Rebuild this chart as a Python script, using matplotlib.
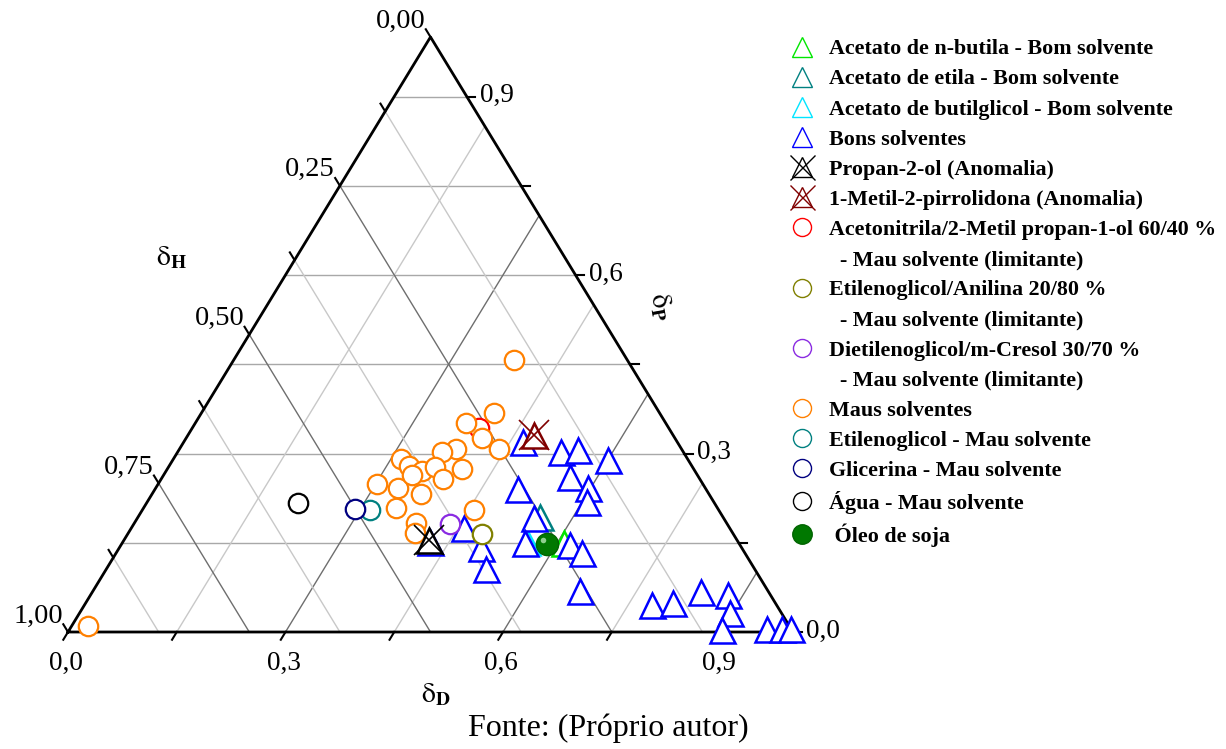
import matplotlib
matplotlib.use('Agg')
import matplotlib.pyplot as plt
from matplotlib.lines import Line2D
from matplotlib.transforms import offset_copy
import numpy as np

plt.rcParams['font.family'] = ['Liberation Serif', 'DejaVu Serif']
plt.rcParams['mathtext.fontset'] = 'stix'

bons_fd = [0.424, 0.459, 0.499, 0.524, 0.501, 0.468, 0.547, 0.555, 0.528, 0.550, 0.600, 0.562, 0.596,
           0.607, 0.619, 0.643, 0.672, 0.783, 0.810, 0.839, 0.879, 0.897, 0.900, 0.962, 0.982, 0.995]
bons_fp = [0.151, 0.175, 0.141, 0.106, 0.240, 0.319, 0.192, 0.150, 0.303, 0.306, 0.289, 0.261, 0.242,
           0.218, 0.146, 0.133, 0.069, 0.045, 0.049, 0.067, 0.062, 0.032, 0.003, 0.005, 0.005, 0.005]
bons_fh = [0.425, 0.366, 0.360, 0.370, 0.259, 0.213, 0.261, 0.295, 0.169, 0.144, 0.111, 0.177, 0.162,
           0.175, 0.235, 0.224, 0.259, 0.172, 0.141, 0.094, 0.059, 0.071, 0.097, 0.033, 0.013, 0.000]

maus_fd = [0.387, 0.404, 0.373, 0.408, 0.440, 0.381, 0.365, 0.314, 0.331, 0.353, 0.368, 0.406,
           0.389, 0.302, 0.334, 0.371, 0.348, 0.458, 0.389, 0.396, 0.023, 0.342]
maus_fp = [0.457, 0.368, 0.351, 0.326, 0.308, 0.308, 0.303, 0.291, 0.279, 0.271, 0.277, 0.274,
           0.257, 0.249, 0.242, 0.232, 0.208, 0.205, 0.183, 0.166, 0.010, 0.264]
maus_fh = [0.156, 0.228, 0.276, 0.266, 0.252, 0.311, 0.332, 0.395, 0.390, 0.376, 0.355, 0.320,
           0.354, 0.449, 0.424, 0.397, 0.444, 0.337, 0.428, 0.438, 0.967, 0.394]

nbutila = [0.609, 0.150, 0.241]
etila = [0.554, 0.193, 0.253]
butilglicol = [0.558, 0.151, 0.291]
propanol = [0.420, 0.155, 0.425]
nmp = [0.477, 0.331, 0.192]
acetonitrila = [0.395, 0.343, 0.262]
etg_anilina = [0.489, 0.165, 0.346]
deg_cresol = [0.436, 0.182, 0.382]
etilenoglicol = [0.314, 0.205, 0.481]
glicerina = [0.293, 0.207, 0.500]
agua = [0.209, 0.217, 0.574]
oleo_soja = [0.587, 0.148, 0.265]

d_ticks = [0.0, 0.15, 0.3, 0.45, 0.6, 0.75, 0.9]
d_labels = {0.0: '0,0', 0.3: '0,3', 0.6: '0,6', 0.9: '0,9'}
p_ticks = [0.0, 0.15, 0.3, 0.45, 0.6, 0.75, 0.9]
p_labels = {0.0: '0,0', 0.3: '0,3', 0.6: '0,6', 0.9: '0,9'}
h_ticks = [0.0, 0.125, 0.25, 0.375, 0.5, 0.625, 0.75, 0.875, 1.0]
h_labels = {0.0: '0,00', 0.25: '0,25', 0.5: '0,50', 0.75: '0,75', 1.0: '1,00'}


def tern(fd, fp, fh):
    fd, fp, fh = (np.atleast_1d(np.asarray(v, dtype=float)) for v in (fd, fp, fh))
    s = fd + fp + fh
    fd, fp = fd / s, fp / s
    return fd + fp / 2, fp


fig = plt.figure(figsize=(12.26, 7.49), dpi=100)
ax = fig.add_axes([68 / 1226, 117 / 749, 725 / 1226, 595 / 749])
ax.set_xlim(0, 1)
ax.set_ylim(0, 1)
ax.axis('off')

# grade
for p in p_ticks[1:]:
    ax.plot([p / 2, 1 - p / 2], [p, p], color='#a8a8a8', lw=1, zorder=1)
for d in d_ticks[1:]:
    dark = abs(d / 0.3 - round(d / 0.3)) < 1e-6
    ax.plot([d, d + (1 - d) / 2], [0, 1 - d], color='#6e6e6e' if dark else '#c8c8c8', lw=1, zorder=1)
for h in h_ticks[1:-1]:
    dark = abs(h / 0.25 - round(h / 0.25)) < 1e-6
    ax.plot([1 - h, (1 - h) / 2], [0, 1 - h], color='#6e6e6e' if dark else '#c8c8c8', lw=1, zorder=1)

# bordas
ax.plot([0, 1, 0.5, 0], [0, 0, 1, 0], color='black', lw=2, zorder=2, clip_on=False)

t = 0.013
for d in d_ticks:
    ax.plot([d, d - t / 2], [0, -t], color='black', lw=1.5, clip_on=False)
    if d in d_labels:
        ax.annotate(d_labels[d], (d, 0), xytext=(-2, -31), textcoords='offset pixels',
                    ha='center', va='center', fontsize=19.5, annotation_clip=False)
for p in p_ticks:
    x = (1 - p) + p / 2
    ax.plot([x, x + 0.012], [p, p], color='black', lw=1.5, clip_on=False)
    if p in p_labels:
        ax.annotate(p_labels[p], (x, p), xytext=(13, 1), textcoords='offset pixels',
                    ha='left', va='center', fontsize=19.5, annotation_clip=False)
for h in h_ticks:
    x, y = (1 - h) / 2, 1 - h
    ax.plot([x, x - t / 2], [y, y + t], color='black', lw=1.5, clip_on=False)
    if h in h_labels:
        ax.annotate(h_labels[h], (x, y), xytext=(-5, 16), textcoords='offset pixels',
                    ha='right', va='center', fontsize=20.5, annotation_clip=False)

tri = dict(ls='none', marker='^', ms=18, mfc='white', mew=1.8, clip_on=False)
circ = dict(ls='none', marker='o', ms=14, mfc='white', mew=1.6, clip_on=False)

ax.plot(*tern(*nbutila), mec='#00e600', zorder=3, **tri)
ax.plot(*tern(*etila), mec='#008080', zorder=3, **tri)
ax.plot(*tern(*butilglicol), mec='#00e5ff', zorder=3, **tri)
ax.plot(*tern(bons_fd, bons_fp, bons_fh), mec='#0000ff', zorder=4, **tri)
ax.plot(*tern(*acetonitrila), mec='#ff0000', zorder=4, **circ)
ax.plot(*tern(maus_fd, maus_fp, maus_fh), mec='#ff8000', zorder=5, **circ)
ax.plot(*tern(*etg_anilina), mec='#808000', zorder=5, **circ)
ax.plot(*tern(*deg_cresol), mec='#8a2be2', zorder=5, **circ)
ax.plot(*tern(*etilenoglicol), mec='#008080', zorder=5, **circ)
ax.plot(*tern(*glicerina), mec='#000080', zorder=6, **circ)
ax.plot(*tern(*agua), mec='black', zorder=6, **circ)
for comp, c in ((propanol, 'black'), (nmp, '#800000')):
    ax.plot(*tern(*comp), mec=c, zorder=7, **tri)
    ax.plot(*tern(*comp), ls='none', marker='x', ms=22, mec=c, mew=1.2, zorder=7)
ax.plot(*tern(*oleo_soja), ls='none', marker='o', ms=16, mfc='#007800', mec='#006400', zorder=8)
ax.plot(*tern(*oleo_soja), ls='none', marker='o', ms=4, mfc='#8fcf8f', mec='none', zorder=9,
        transform=offset_copy(ax.transData, fig, x=-4, y=4, units='dots'))

# títulos dos eixos
fig.text(172 / 1226, 1 - 258 / 749, r'$\mathrm{\delta}_\mathbf{H}$', fontsize=20, ha='center', va='center')
fig.text(436 / 1226, 1 - 695 / 749, r'$\mathrm{\delta}_\mathbf{D}$', fontsize=20, ha='center', va='center')
fig.text(660 / 1226, 1 - 307 / 749, r'$\mathrm{\delta}_\mathbf{P}$', fontsize=20, ha='center', va='center',
         rotation=-80)

# legenda
def tri_h(c):
    return Line2D([], [], ls='none', marker='^', ms=15, mfc='white', mec=c, mew=1)


def circ_h(c):
    return Line2D([], [], ls='none', marker='o', ms=13, mfc='white', mec=c, mew=1)


def x_h(c):
    return (tri_h(c), Line2D([], [], ls='none', marker='x', ms=18, mec=c, mew=1))


blank = Line2D([], [], ls='none')
handles = [tri_h('#00e600'), tri_h('#008080'), tri_h('#00e5ff'), tri_h('#0000ff'),
           x_h('black'), x_h('#800000'),
           circ_h('#ff0000'), blank, circ_h('#808000'), blank, circ_h('#8a2be2'), blank,
           circ_h('#ff8000'), circ_h('#008080'), circ_h('#000080'), circ_h('black'),
           Line2D([], [], ls='none', marker='o', ms=14, mfc='#007800', mec='#006400')]
labels = ['Acetato de n-butila - Bom solvente', 'Acetato de etila - Bom solvente',
          'Acetato de butilglicol - Bom solvente', 'Bons solventes',
          'Propan-2-ol (Anomalia)', '1-Metil-2-pirrolidona (Anomalia)',
          'Acetonitrila/2-Metil propan-1-ol 60/40 %', '  - Mau solvente (limitante)',
          'Etilenoglicol/Anilina 20/80 %', '  - Mau solvente (limitante)',
          'Dietilenoglicol/m-Cresol 30/70 %', '  - Mau solvente (limitante)',
          'Maus solventes', 'Etilenoglicol - Mau solvente', 'Glicerina - Mau solvente',
          'Água - Mau solvente', ' Óleo de soja']
fig.legend(handles, labels, loc='upper left', bbox_to_anchor=(792 / 1226, 1 - 39 / 749),
           frameon=False, prop={'family': 'Liberation Serif', 'weight': 'bold', 'size': 15.8},
           handlelength=0.9, handletextpad=0.8, labelspacing=0.445, borderpad=0, borderaxespad=0)

fig.text(608 / 1226, 1 - 728 / 749, 'Fonte: (Próprio autor)', fontsize=23, ha='center', va='center')

fig.savefig('out.png', dpi=100)
